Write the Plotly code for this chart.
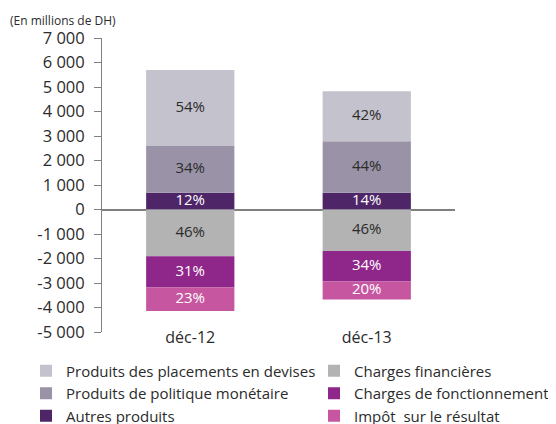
import plotly.graph_objects as go

periods = ["déc-12", "déc-13"]

# produits (positifs), empilés depuis zéro
autres_produits = [680, 680]
politique_monetaire = [1910, 2110]
placements_devises = [3100, 2040]
# charges (négatives), empilées depuis zéro vers le bas
charges_financieres = [-1904, -1690]
charges_fonctionnement = [-1283, -1250]
impot_resultat = [-952, -730]

pct_autres = ["12%", "14%"]
pct_politique = ["34%", "44%"]
pct_placements = ["54%", "42%"]
pct_financieres = ["46%", "46%"]
pct_fonctionnement = ["31%", "34%"]
pct_impot = ["23%", "20%"]

y_tickvals = [7000, 6000, 5000, 4000, 3000, 2000, 1000, 0, -1000, -2000, -3000, -4000, -5000]
y_ticktext = ["7 000", "6 000", "5 000", "4 000", "3 000", "2 000", "1 000", "0",
              "-1 000", "-2 000", "-3 000", "-4 000", "-5 000"]

FONT = "Open Sans, Noto Sans, Arial, sans-serif"
DARK = "#2b2b2b"
AXIS = "#808080"

# the page body has an 8px margin, so the layout is shifted by -8px
W, H = 556, 424
TOP, BOTTOM = 30, 100.3
PLOT_H = H - TOP - BOTTOM

series = [
    # name, values, labels, colour, text colour, legend, rank
    ("Autres produits", autres_produits, pct_autres, "#4e2668", "white", "legend", 3),
    ("Produits de politique monétaire", politique_monetaire, pct_politique, "#9a93a8", DARK, "legend", 2),
    ("Produits des placements en devises", placements_devises, pct_placements, "#c4c2cc", DARK, "legend", 1),
    ("Charges financières", charges_financieres, pct_financieres, "#b3b3b3", DARK, "legend2", 1),
    ("Charges de fonctionnement", charges_fonctionnement, pct_fonctionnement, "#8f2689", "white", "legend2", 2),
    ("Impôt  sur le résultat", impot_resultat, pct_impot, "#c656a0", "white", "legend2", 3),
]

fig = go.Figure()
for name, values, labels, color, text_color, legend, rank in series:
    fig.add_trace(go.Bar(
        x=periods,
        y=values,
        name=name,
        marker={"color": color, "line": {"width": 0}},
        legend=legend,
        legendrank=rank,
        hoverinfo="skip",
    ))

# percentage labels centred in each stacked segment
pos_base = [0] * len(periods)
neg_base = [0] * len(periods)
for name, values, labels, color, text_color, legend, rank in series:
    mids = []
    for i, v in enumerate(values):
        base = pos_base if v >= 0 else neg_base
        mids.append(base[i] + v / 2)
        base[i] += v
    fig.add_trace(go.Scatter(
        x=periods,
        y=mids,
        mode="text",
        text=labels,
        textposition="middle center",
        textfont={"family": FONT, "size": 15, "color": text_color},
        showlegend=False,
        hoverinfo="skip",
        cliponaxis=False,
    ))

legend_style = {
    "orientation": "v",
    "xanchor": "left",
    "y": (H - BOTTOM - 346.3) / PLOT_H,
    "yanchor": "top",
    "font": {"family": FONT, "size": 15, "color": DARK},
    "traceorder": "normal",
    "bgcolor": "rgba(0,0,0,0)",
}

fig.update_layout(
    barmode="relative",
    bargap=0.5,
    width=W,
    height=H,
    autosize=False,
    plot_bgcolor="white",
    paper_bgcolor="white",
    font={"family": FONT, "size": 15, "color": DARK},
    margin={"l": 0, "r": 0, "t": TOP, "b": BOTTOM, "autoexpand": False},
    legend={**legend_style, "x": 18 / W},
    legend2={**legend_style, "x": 306 / W},
    annotations=[{
        "text": "(En millions de DH)",
        "x": 0,
        "xref": "paper",
        "xanchor": "left",
        "y": (H - BOTTOM - 13) / PLOT_H,
        "yref": "paper",
        "yanchor": "middle",
        "showarrow": False,
        "font": {"family": FONT, "size": 12, "color": DARK},
    }],
)

fig.update_xaxes(
    domain=[94 / W, 447 / W],
    range=[-0.5, 1.5],
    showline=False,
    showgrid=False,
    zeroline=False,
    ticks="",
    ticklabelstandoff=-6,
    tickfont={"family": FONT, "size": 16, "color": DARK},
)
fig.update_yaxes(
    range=[-5000, 7000],
    tickvals=y_tickvals,
    ticktext=y_ticktext,
    tickfont={"family": FONT, "size": 16.5, "color": DARK},
    showgrid=False,
    showline=True,
    linecolor=AXIS,
    linewidth=1,
    ticks="outside",
    ticklen=7,
    tickcolor=AXIS,
    tickwidth=1,
    ticklabelstandoff=6,
    zeroline=True,
    zerolinecolor=AXIS,
    zerolinewidth=1.5,
    layer="above traces",
)

fig.write_html("out.html")
